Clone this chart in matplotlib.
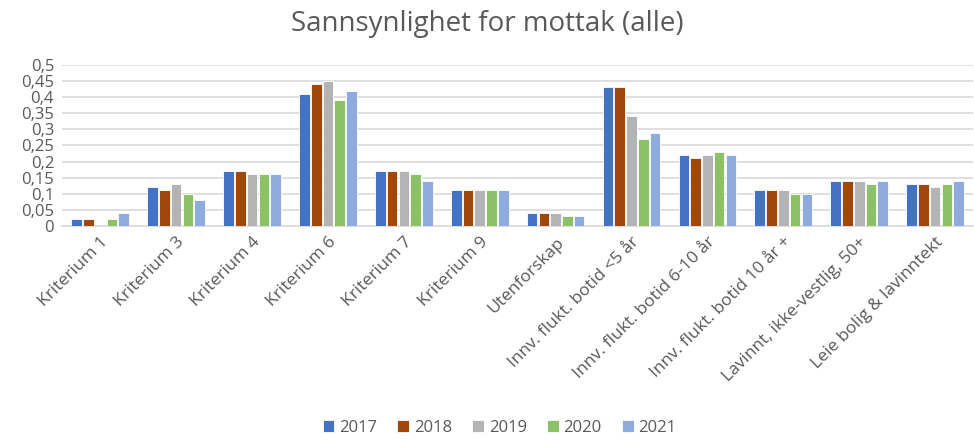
import numpy as np
import matplotlib.pyplot as plt

plt.rcParams['font.family'] = ['Open Sans', 'DejaVu Sans']

# -- Data --
categories = ["Kriterium 1", "Kriterium 3", "Kriterium 4", "Kriterium 6",
              "Kriterium 7", "Kriterium 9", "Utenforskap",
              "Innv. flukt. botid <5 år", "Innv. flukt. botid 6-10 år",
              "Innv. flukt. botid 10 år +", "Lavinnt, ikke-vestlig, 50+",
              "Leie bolig & lavinntekt"]
years = ["2017", "2018", "2019", "2020", "2021"]
v2017 = [0.02, 0.12, 0.17, 0.41, 0.17, 0.11, 0.04, 0.43, 0.22, 0.11, 0.14, 0.13]
v2018 = [0.02, 0.11, 0.17, 0.44, 0.17, 0.11, 0.04, 0.43, 0.21, 0.11, 0.14, 0.13]
v2019 = [0.00, 0.13, 0.16, 0.45, 0.17, 0.11, 0.04, 0.34, 0.22, 0.11, 0.14, 0.12]
v2020 = [0.02, 0.10, 0.16, 0.39, 0.16, 0.11, 0.03, 0.27, 0.23, 0.10, 0.13, 0.13]
v2021 = [0.04, 0.08, 0.16, 0.42, 0.14, 0.11, 0.03, 0.29, 0.22, 0.10, 0.14, 0.14]
series = [v2017, v2018, v2019, v2020, v2021]
colors = ["#4472C4", "#9E480E", "#B4B4B4", "#8CC168", "#8FAADC"]

yticks = np.arange(0, 0.501, 0.05)
ytick_labels = ["0"] + [f"{t:g}".replace(".", ",") for t in yticks[1:]]

text_color = "#595959"
grid_color = "#D9D9D9"

# -- Figure --
fig = plt.figure(figsize=(9.74, 4.42), dpi=100)
ax = fig.add_axes([0.064, 0.489, 0.935, 0.364])

x = np.arange(len(categories))
step = 0.155
width = 0.14
for i, (vals, yr, col) in enumerate(zip(series, years, colors)):
    ax.bar(x + (i - 2) * step, vals, width, color=col, label=yr,
           edgecolor="white", linewidth=0.6, zorder=3)

ax.set_xlim(-0.5, len(categories) - 0.5)
ax.set_ylim(0, 0.5)
ax.set_yticks(yticks)
ax.set_yticklabels(ytick_labels, fontsize=12, color=text_color)
ax.set_xticks(x)
ax.set_xticklabels(categories, rotation=45, ha="right", rotation_mode="anchor",
                   fontsize=12.5, color=text_color)
ax.tick_params(length=0, pad=6)
ax.tick_params(axis="y", pad=6)
ax.grid(axis="y", color=grid_color, linewidth=1.2, zorder=0)
for s in ["top", "right", "left"]:
    ax.spines[s].set_visible(False)
ax.spines["bottom"].set_color(grid_color)
ax.spines["bottom"].set_linewidth(1.2)

fig.suptitle("Sannsynlighet for mottak (alle)", fontsize=20, color=text_color,
             y=0.978)

fig.legend(loc="lower center", ncol=5, frameon=False, fontsize=12,
           bbox_to_anchor=(0.513, -0.02), handlelength=0.7, handleheight=0.7,
           handletextpad=0.3, columnspacing=1.2, labelcolor=text_color)

fig.savefig("out.png", dpi=100)
